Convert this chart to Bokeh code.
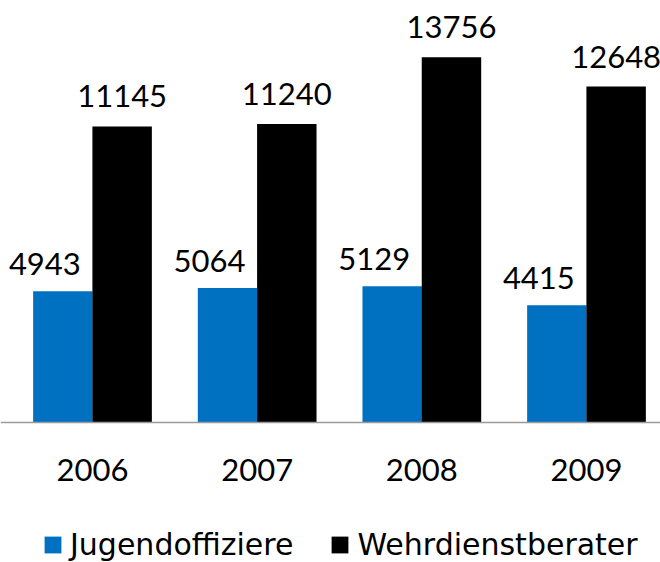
from bokeh.plotting import figure
from bokeh.models import ColumnDataSource, Range1d, FixedTicker, LabelSet, Legend, LegendItem
from bokeh.transform import dodge
from bokeh.embed import file_html
from bokeh.resources import INLINE
from bokeh.core.properties import value

years = ["2006", "2007", "2008", "2009"]
jugendoffiziere = [4943, 5064, 5129, 4415]
wehrdienstberater = [11145, 11240, 13756, 12648]
series_names = ["Jugendoffiziere", "Wehrdienstberater"]

FONT = "Lato"
LEGEND_FONT = "DejaVu Sans"
BLUE = "#0070C0"
idx = list(range(len(years)))

src = ColumnDataSource(dict(
    x=idx,
    j=jugendoffiziere,
    w=wehrdienstberater,
    jl=[str(v) for v in jugendoffiziere],
    wl=[str(v) for v in wehrdienstberater],
))

p = figure(width=660, height=562, output_backend="svg", toolbar_location=None,
           x_range=Range1d(-0.5587, 3.4494), y_range=Range1d(-5271, 15889),
           y_axis_location=None,
           min_border_left=0, min_border_right=0, min_border_top=0, min_border_bottom=0)
p.outline_line_color = None
p.grid.visible = False
p.background_fill_color = "white"
p.border_fill_color = "white"

rj = p.vbar(x=dodge('x', -0.18), top='j', bottom=0, width=0.361, source=src,
            fill_color=BLUE, line_color=None)
rw = p.vbar(x=dodge('x', 0.18), top='w', bottom=0, width=0.361, source=src,
            fill_color="black", line_color=None)

lj = LabelSet(x=dodge('x', -0.18), y='j', text='jl', source=src,
              x_offset=-18, y_offset=16, text_align='center', text_baseline='alphabetic',
              text_font=value(FONT), text_font_size='31px', text_color="black")
lw = LabelSet(x=dodge('x', 0.18), y='w', text='wl', source=src,
              x_offset=0, y_offset=19, text_align='center', text_baseline='alphabetic',
              text_font=value(FONT), text_font_size='31px', text_color="black")
p.add_layout(lj)
p.add_layout(lw)

ax = p.xaxis[0]
ax.fixed_location = 0
ax.ticker = FixedTicker(ticks=idx)
ax.major_label_overrides = {i: y for i, y in zip(idx, years)}
ax.major_tick_out = 0
ax.major_tick_in = 0
ax.minor_tick_out = 0
ax.minor_tick_in = 0
ax.axis_line_color = "#9a9a9a"
ax.axis_line_width = 1.5
ax.major_label_text_font = FONT
ax.major_label_text_font_size = "31px"
ax.major_label_text_color = "black"
ax.major_label_standoff = 36

legend = Legend(items=[LegendItem(label=series_names[0], renderers=[rj]),
                       LegendItem(label=series_names[1], renderers=[rw])],
                orientation="horizontal", location=(42, 0),
                label_text_font=LEGEND_FONT, label_text_font_size="30px", label_text_color="black",
                glyph_width=21, glyph_height=21, label_standoff=7, spacing=36,
                padding=0, margin=0, border_line_color=None, background_fill_alpha=0)
p.add_layout(legend, "center")

open("out.html", "w").write(file_html(p, INLINE))
